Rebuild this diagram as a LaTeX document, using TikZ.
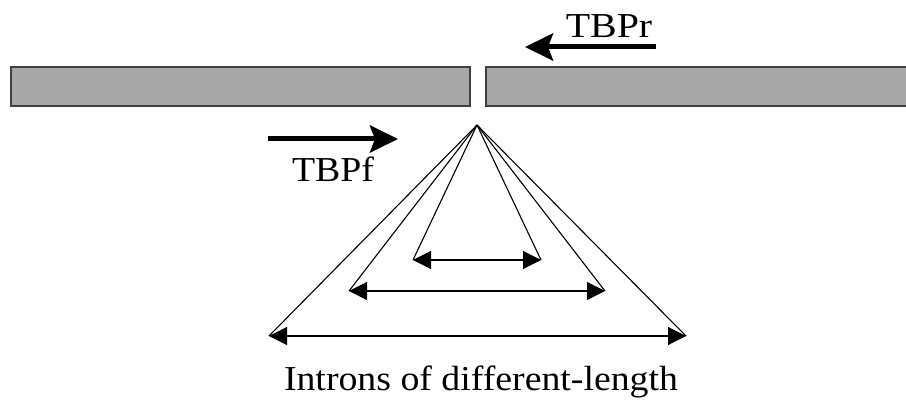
\documentclass[tikz,border=0pt]{standalone}
\usepackage{fontspec}
\setmainfont{Liberation Serif}
\usetikzlibrary{arrows.meta}
\definecolor{barfill}{HTML}{A8A8A8}
\definecolor{barline}{HTML}{404040}
\newcommand{\widetext}[2]{\scalebox{#1}[1]{#2}}
\tikzset{
  exonbar/.style={fill=barfill, draw=barline, line width=1.5pt},
  primer/.style={line width=5pt, -{Stealth[length=28pt,width=27pt,inset=5pt]}},
  span/.style={line width=1.1pt, {Triangle[length=18pt,width=18pt]}-{Triangle[length=18pt,width=18pt]}},
  leg/.style={line width=1.1pt, line join=miter},
  lbl/.style={font=\fontsize{35}{40}\selectfont, inner sep=0pt, anchor=base}
}
\begin{document}
\begin{tikzpicture}[x=1pt,y=-1pt]
\useasboundingbox (0,0) rectangle (906,401);
\clip (0,0) rectangle (906,401);

% gene split by the insertion site
\draw[exonbar] (11,67) rectangle (470,106);
\draw[exonbar] (486,67) rectangle (920,106);

% primers
\coordinate (rtail) at (656,47);
\coordinate (rtip)  at (525,47);
\draw[primer] (rtail) -- (rtip);
\node[lbl] (tbpr) at (609,38) {\widetext{1.14}{TBPr}};

\coordinate (ftail) at (268,139);
\coordinate (ftip)  at (398,139);
\draw[primer] (ftail) -- (ftip);
\node[lbl] (tbpf) at (333,182) {\widetext{1.08}{TBPf}};

% insertion site and introns of three lengths
\coordinate (apex) at (477,125);
\coordinate (a1) at (413,260);
\coordinate (b1) at (541,260);
\coordinate (a2) at (349,291);
\coordinate (b2) at (605,291);
\coordinate (a3) at (269,336);
\coordinate (b3) at (686,336);

\foreach \e in {a1,b1,a2,b2,a3,b3}
  \draw[leg] (apex) -- (\e);
\draw[span] (a1) -- (b1);
\draw[span] (a2) -- (b2);
\draw[span] (a3) -- (b3);

\node[lbl] (cap) at (481,390) {\widetext{1.08}{Introns of different-length}};
\end{tikzpicture}
\end{document}
